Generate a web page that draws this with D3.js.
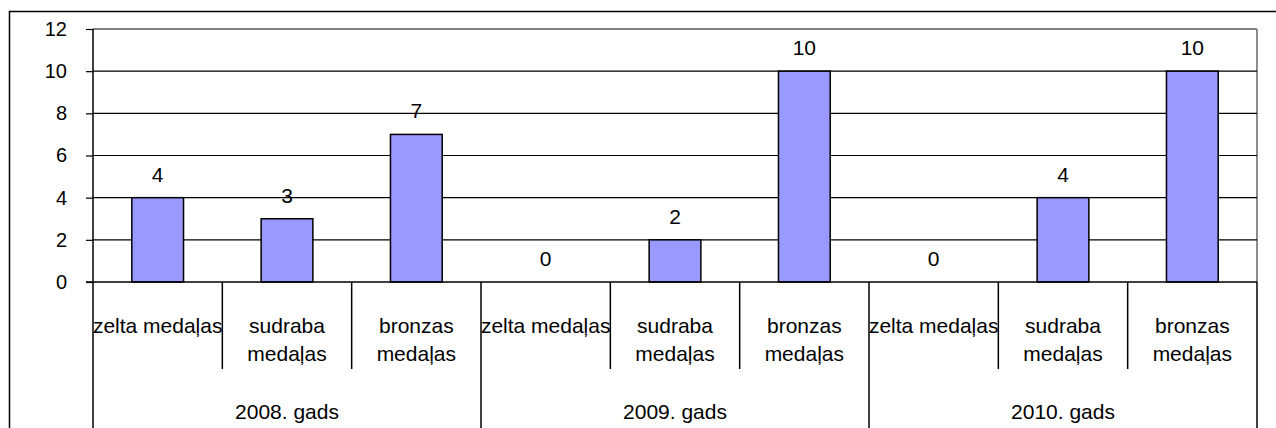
<!DOCTYPE html>
<html><head><meta charset="utf-8">
<script src="https://cdn.jsdelivr.net/npm/d3@7"></script>
<style>html,body{margin:0;padding:0;background:#fff;}svg{display:block;}</style>
</head><body>
<svg id="c" width="1276" height="428"></svg>
<script>
const years = ["2008. gads", "2009. gads", "2010. gads"];
const medals = [["zelta medaļas"], ["sudraba", "medaļas"], ["bronzas", "medaļas"]];
const values = [4, 3, 7, 0, 2, 10, 0, 4, 10];
const yTicks = [0, 2, 4, 6, 8, 10, 12];

const svg = d3.select("#c");
const font = "'Liberation Sans', Arial, sans-serif";
const L = 93, R = 1257, T = 29, B = 282;

// outer chart border
svg.append("rect").attr("x", 9.5).attr("y", 11.5).attr("width", 1300).attr("height", 500)
  .attr("fill", "none").attr("stroke", "#000").attr("stroke-width", 1.5);

const cats = values.map((v, i) => i);
const x = d3.scaleBand().domain(cats).range([L, R]).padding(0);
const y = d3.scaleLinear().domain([0, 12]).range([B, T]);

// plot border (gray top/right)
svg.append("line").attr("x1", L).attr("x2", R).attr("y1", y(12)).attr("y2", y(12))
  .attr("stroke", "#808080").attr("stroke-width", 1.8);
svg.append("line").attr("x1", R).attr("x2", R).attr("y1", y(12)).attr("y2", B)
  .attr("stroke", "#808080").attr("stroke-width", 1.8);

// gridlines
svg.append("g").selectAll("line").data(yTicks.filter(t => t > 0 && t < 12)).join("line")
  .attr("x1", L).attr("x2", R).attr("y1", d => y(d)).attr("y2", d => y(d))
  .attr("stroke", "#000").attr("stroke-width", 1.2);

// y axis
const ya = svg.append("g").attr("transform", `translate(${L},0)`)
  .call(d3.axisLeft(y).tickValues(yTicks).tickSize(7).tickPadding(19));
ya.select(".domain").remove();
ya.selectAll(".tick line").attr("stroke", "#000").attr("stroke-width", 1.2);
ya.selectAll(".tick text").attr("font-family", font).attr("font-size", 20).attr("fill", "#000");
svg.append("line").attr("x1", L).attr("x2", L).attr("y1", y(12)).attr("y2", 428)
  .attr("stroke", "#000").attr("stroke-width", 1.5);

// bars
const bw = x.bandwidth() * 0.4;
svg.append("g").selectAll("rect").data(values).join("rect")
  .attr("x", (d, i) => x(i) + (x.bandwidth() - bw) / 2)
  .attr("y", d => y(d)).attr("width", bw).attr("height", d => B - y(d))
  .attr("fill", "#9999FF").attr("stroke", "#000").attr("stroke-width", 1.5);

// data labels
svg.append("g").selectAll("text").data(values).join("text")
  .attr("x", (d, i) => x(i) + x.bandwidth() / 2).attr("y", d => y(d) - 16)
  .attr("text-anchor", "middle").attr("font-family", font).attr("font-size", 21)
  .text(d => d);

// x axis line
svg.append("line").attr("x1", L - 7).attr("x2", R).attr("y1", B).attr("y2", B)
  .attr("stroke", "#000").attr("stroke-width", 1.5);

// category boundary ticks
cats.forEach(i => {
  if (i === 0) return;
  const isGroup = i % 3 === 0;
  svg.append("line").attr("x1", x(i)).attr("x2", x(i)).attr("y1", B).attr("y2", isGroup ? 428 : 369)
    .attr("stroke", "#000").attr("stroke-width", 1.5);
});
svg.append("line").attr("x1", R).attr("x2", R).attr("y1", B).attr("y2", 428)
  .attr("stroke", "#000").attr("stroke-width", 1.5);

// category labels
cats.forEach(i => {
  const lines = medals[i % 3];
  const t = svg.append("text").attr("text-anchor", "middle").attr("font-family", font).attr("font-size", 21);
  lines.forEach((ln, k) => t.append("tspan").attr("x", x(i) + x.bandwidth() / 2).attr("y", 333 + k * 28).text(ln));
});

// group labels
years.forEach((yr, g) => {
  const x0 = x(g * 3), x1 = x(g * 3 + 2) + x.bandwidth();
  svg.append("text").attr("x", (x0 + x1) / 2).attr("y", 419).attr("text-anchor", "middle")
    .attr("font-family", font).attr("font-size", 21).text(yr);
});
</script>
</body></html>
